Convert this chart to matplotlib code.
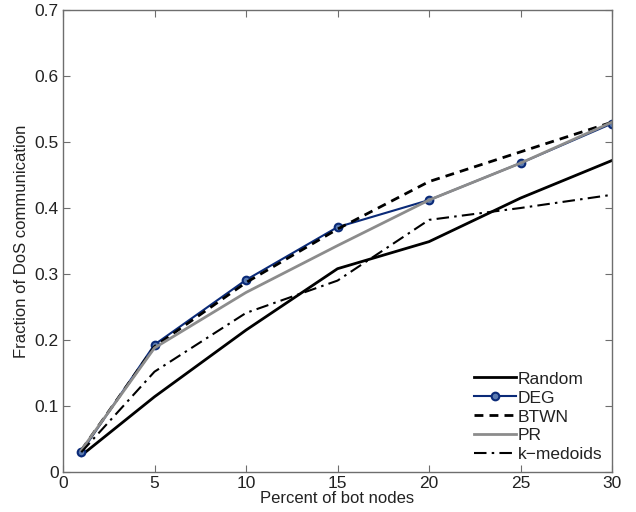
import matplotlib
matplotlib.use("Agg")
import matplotlib.pyplot as plt

plt.rcParams['font.family'] = ['Liberation Sans', 'DejaVu Sans']

# Percent of bot nodes
pct = [1, 5, 10, 15, 20, 25, 30]

# Fraction of DoS communication per selection strategy
random_sel = [0.025, 0.114, 0.215, 0.308, 0.349, 0.415, 0.472]
deg_sel = [0.030, 0.193, 0.291, 0.371, 0.412, 0.468, 0.528]
btwn_sel = [0.033, 0.190, 0.287, 0.368, 0.440, 0.485, 0.530]
pr_sel = [0.033, 0.188, 0.272, 0.343, 0.412, 0.468, 0.530]
kmed_sel = [0.030, 0.152, 0.241, 0.290, 0.382, 0.400, 0.420]

fig = plt.figure(figsize=(6.36, 5.12), dpi=100)
ax = fig.add_axes([63 / 636, 1 - 472 / 512, 549 / 636, 462 / 512])

ax.plot(pct, random_sel, color='black', lw=2.0, label='Random')
ax.plot(pct, deg_sel, color='#0a2a78', lw=1.5, marker='o', ms=5.5,
        mfc='#5a7ab0', mec='#0a2a78', mew=1.5, label='DEG')
ax.plot(pct, btwn_sel, color='black', lw=2.0, ls=(0, (3.2, 2.2)), label='BTWN')
ax.plot(pct, pr_sel, color='#8c8c8c', lw=2.0, label='PR')
ax.plot(pct, kmed_sel, color='black', lw=1.5, ls=(0, (6, 2.5, 1.2, 2.5)), label='k\u2212medoids')

ax.set_xlim(0, 30)
ax.set_ylim(0, 0.7)
ax.set_xticks([0, 5, 10, 15, 20, 25, 30])
ax.set_yticks([0, 0.1, 0.2, 0.3, 0.4, 0.5, 0.6, 0.7])
ax.set_yticklabels(['0', '0.1', '0.2', '0.3', '0.4', '0.5', '0.6', '0.7'])
ax.tick_params(direction='in', top=True, right=True, length=5, width=0.8,
               color='#6e6e6e', labelsize=12.5, labelcolor='#222222', pad=3)
for sp in ax.spines.values():
    sp.set_color('#6e6e6e')
    sp.set_linewidth(1.0)

ax.set_xlabel('Percent of bot nodes', fontsize=12, color='#222222', labelpad=0)
ax.set_ylabel('Fraction of DoS communication', fontsize=12, color='#222222', labelpad=4)

leg = ax.legend(loc='lower right', frameon=False, fontsize=12.5, handlelength=2.4,
                handletextpad=0.1, labelspacing=0.22, borderaxespad=0.15)
for t in leg.get_texts():
    t.set_color('#222222')

plt.savefig('out.png', dpi=100)
